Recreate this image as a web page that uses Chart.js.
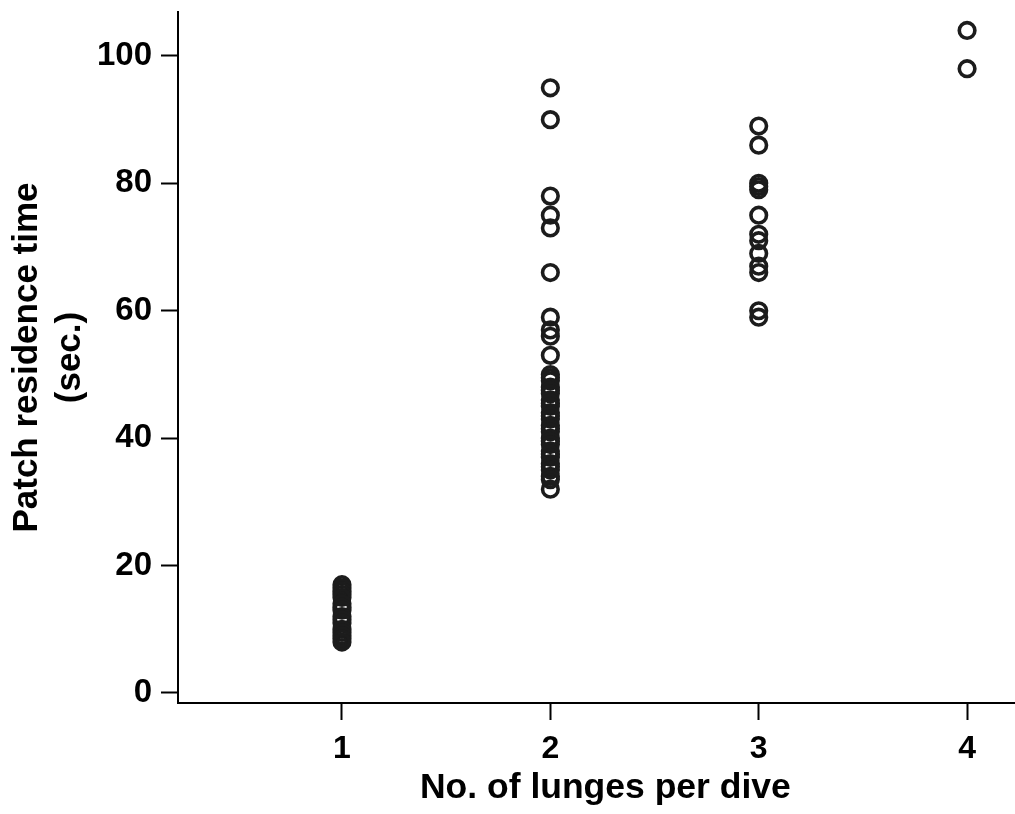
<!DOCTYPE html>
<html>
<head>
<meta charset="utf-8">
<title>Patch residence time vs lunges per dive</title>
<script src="https://cdn.jsdelivr.net/npm/chart.js@4"></script>
<style>
  html, body { margin: 0; padding: 0; background: #fff; }
  #wrap { width: 1015px; height: 814px; }
</style>
</head>
<body>
<div id="wrap"><canvas id="lungeChart" width="1015" height="814"></canvas></div>
<script>
// patch residence time (sec.) for each number of lunges per dive
const oneLunge = [17, 16.5, 16, 15.5, 15, 14, 13.5, 13, 12, 11.5, 11, 10, 9.5, 9, 8.5, 8];
const twoLunges = [95, 90, 78, 75, 73, 66, 59, 57, 56, 53,
  50, 49.5, 49, 48, 47.5, 47, 46, 45.5, 45, 44, 43.5, 43, 42, 41.5, 41,
  40, 39.5, 39, 38, 37.5, 37, 36, 35.5, 35, 34, 33.5, 32];
const threeLunges = [89, 86, 80, 79.5, 79, 75, 72, 71, 69, 67, 66, 60, 59];
const fourLunges = [104, 98];

const xTicks = [1, 2, 3, 4];
const yTicks = [0, 20, 40, 60, 80, 100];

const groups = [oneLunge, twoLunges, threeLunges, fourLunges];
const points = [];
groups.forEach((vals, idx) => {
  vals.forEach((v) => points.push({ x: xTicks[idx], y: v }));
});

const INK = "#1c1c1c";
const FONT = "'Liberation Sans', Arial, Helvetica, sans-serif";

const ctx = document.getElementById("lungeChart").getContext("2d");
new Chart(ctx, {
  type: "scatter",
  data: {
    datasets: [
      {
        data: points,
        pointStyle: "circle",
        pointRadius: 7.8,
        pointBorderWidth: 3.6,
        pointBorderColor: INK,
        pointBackgroundColor: "rgba(0,0,0,0)",
        pointHoverRadius: 7.8,
      },
    ],
  },
  options: {
    responsive: false,
    animation: false,
    layout: { autoPadding: false, padding: { top: 12, right: 0, bottom: 0, left: 0 } },
    plugins: {
      legend: { display: false },
      tooltip: { enabled: false },
    },
    scales: {
      x: {
        type: "linear",
        min: 0.213,
        max: 4.23,
        afterBuildTicks: (axis) => {
          axis.ticks = xTicks.map((v) => ({ value: v }));
        },
        afterFit: (axis) => {
          axis.height = 111;
          axis.paddingLeft = 0;
          axis.paddingRight = 0;
        },
        border: { display: true, color: "#000", width: 2 },
        grid: {
          drawOnChartArea: false,
          drawTicks: true,
          tickLength: 17,
          tickWidth: 2,
          tickColor: "#000",
        },
        ticks: {
          color: "#000",
          padding: 10,
          maxRotation: 0,
          font: { family: FONT, size: 32, weight: "bold" },
        },
        title: {
          display: true,
          // en space nudges the centred title a little to the right
          text: "\u2002No. of lunges per dive",
          color: "#000",
          padding: { top: 0, bottom: 4 },
          font: { family: FONT, size: 35.5, weight: "bold", lineHeight: 1.25 },
        },
      },
      y: {
        type: "linear",
        min: -1.57,
        max: 106.9,
        afterBuildTicks: (axis) => {
          axis.ticks = yTicks.map((v) => ({ value: v }));
        },
        afterFit: (axis) => {
          axis.width = 178;
          axis.paddingTop = 0;
          axis.paddingBottom = 0;
        },
        border: { display: true, color: "#000", width: 2 },
        grid: {
          drawOnChartArea: false,
          drawTicks: true,
          tickLength: 17,
          tickWidth: 2,
          tickColor: "#000",
        },
        ticks: {
          color: "#000",
          padding: 9,
          font: { family: FONT, size: 33, weight: "bold" },
        },
        title: {
          display: true,
          text: ["Patch residence time", "(sec.)"],
          color: "#000",
          padding: { top: 5, bottom: 0 },
          font: { family: FONT, size: 35, weight: "bold", lineHeight: 1.25 },
        },
      },
    },
  },
});
</script>
</body>
</html>
